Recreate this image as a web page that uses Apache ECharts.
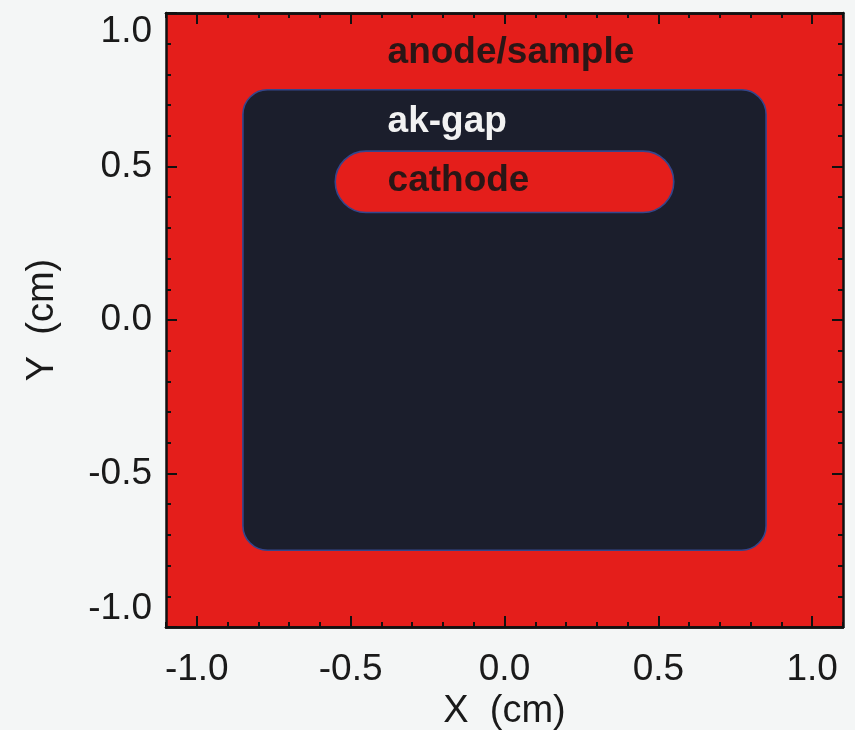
<!DOCTYPE html>
<html>
<head>
<meta charset="utf-8">
<script src="https://cdn.jsdelivr.net/npm/echarts@6/dist/echarts.min.js"></script>
<style>
html,body{margin:0;padding:0;background:#f4f6f6;}
#chart{width:855px;height:730px;}
</style>
</head>
<body>
<div id="chart"></div>
<script>
// ---- data ----
const regionNames = ['anode/sample', 'ak-gap', 'cathode'];
const regionX0 = [-1.1, -0.85, -0.55];
const regionX1 = [1.1, 0.85, 0.55];
const regionY0 = [-1.0, -0.75, 0.35];
const regionY1 = [1.0, 0.75, 0.55];
const regionCorner = [0, 0.08, 0.1];
const labelX = [-0.38, -0.38, -0.38];
const labelY = [0.87, 0.645, 0.455];
const xTickLabels = [-1.0, -0.5, 0.0, 0.5, 1.0];
const xMinorTicks = [-1.1, -0.9, -0.8, -0.7, -0.6, -0.4, -0.3, -0.2, -0.1, 0.1, 0.2, 0.3, 0.4, 0.6, 0.7, 0.8, 0.9, 1.1];
const yTickLabels = [-1.0, -0.5, 0.0, 0.5, 1.0];

// ---- styles ----
const fillColors = ['#e41e1b', '#1b1e2c', '#e41e1b'];
const strokeColors = [null, '#34468c', '#34468c'];
const textColors = ['#2a1616', '#f2f2f2', '#2a1616'];
const FONT = '"Liberation Sans", Arial, Helvetica, sans-serif';

const chart = echarts.init(document.getElementById('chart'), null, {renderer: 'canvas'});

const regionData = regionNames.map((n, i) => [regionX0[i], regionY0[i], regionX1[i], regionY1[i], regionCorner[i], labelX[i], labelY[i], i]);

const lineStyle = {color: '#111', width: 2.5};
function xAx(pos, major, showLabel) {
  return {
    type: 'value', min: -1.1, max: 1.1, position: pos, zlevel: 1, z: 10,
    splitLine: {show: false},
    axisLine: {show: true, onZero: false, lineStyle: lineStyle},
    axisTick: {show: true, inside: true, length: major ? 11 : 5, lineStyle: {color: '#111', width: 2},
      customValues: major ? xTickLabels : xMinorTicks},
    axisLabel: {show: showLabel, customValues: xTickLabels, formatter: v => v.toFixed(1),
      fontFamily: FONT, fontSize: 37, color: '#1a1a1a', margin: 24},
    name: showLabel ? 'X  (cm)' : '', nameLocation: 'middle', nameGap: 60,
    nameTextStyle: {fontFamily: FONT, fontSize: 38, color: '#1a1a1a'}
  };
}
function yAx(pos, showLabel) {
  return {
    type: 'value', min: -1.0, max: 1.0, interval: 0.5, position: pos, zlevel: 1, z: 10,
    splitLine: {show: false}, minorSplitLine: {show: false},
    axisLine: {show: true, onZero: false, lineStyle: lineStyle},
    axisTick: {show: true, inside: true, length: 11, lineStyle: {color: '#111', width: 2}},
    minorTick: {show: true, splitNumber: 5, length: 5, lineStyle: {color: '#111', width: 2}},
    axisLabel: {show: showLabel, customValues: yTickLabels, formatter: v => v.toFixed(1),
      fontFamily: FONT, fontSize: 37, color: '#1a1a1a', margin: 14,
      verticalAlignMinLabel: 'bottom', verticalAlignMaxLabel: 'top'},
    name: showLabel ? 'Y  (cm)' : '', nameLocation: 'middle', nameGap: 104, nameRotate: 90,
    nameTextStyle: {fontFamily: FONT, fontSize: 38, color: '#1a1a1a'}
  };
}

chart.setOption({
  animation: false,
  backgroundColor: '#f4f6f6',
  grid: {left: 166, top: 13, right: 12, bottom: 103, containLabel: false, outerBoundsMode: 'none'},
  xAxis: [xAx('bottom', true, true), xAx('top', true, false), xAx('bottom', false, false), xAx('top', false, false)],
  yAxis: [yAx('left', true), yAx('right', false)],
  series: [{
    type: 'custom',
    coordinateSystem: 'cartesian2d',
    xAxisIndex: 0, yAxisIndex: 0,
    zlevel: 0, z: 1,
    clip: false,
    data: regionData,
    renderItem: function (params, api) {
      const i = api.value(7);
      const p0 = api.coord([api.value(0), api.value(3)]);
      const p1 = api.coord([api.value(2), api.value(1)]);
      const r = api.size([api.value(4), api.value(4)])[0];
      const lp = api.coord([api.value(5), api.value(6)]);
      const st = {fill: fillColors[i]};
      if (strokeColors[i]) { st.stroke = strokeColors[i]; st.lineWidth = 1.6; }
      return {
        type: 'group',
        children: [
          {type: 'rect', shape: {x: p0[0], y: p0[1], width: p1[0] - p0[0], height: p1[1] - p0[1], r: r}, style: st},
          {type: 'text', x: lp[0], y: lp[1], z2: 5,
           style: {text: regionNames[i], fill: textColors[i], font: 'bold 37px ' + FONT, textAlign: 'left', textVerticalAlign: 'middle'}}
        ]
      };
    }
  }]
});
</script>
</body>
</html>
